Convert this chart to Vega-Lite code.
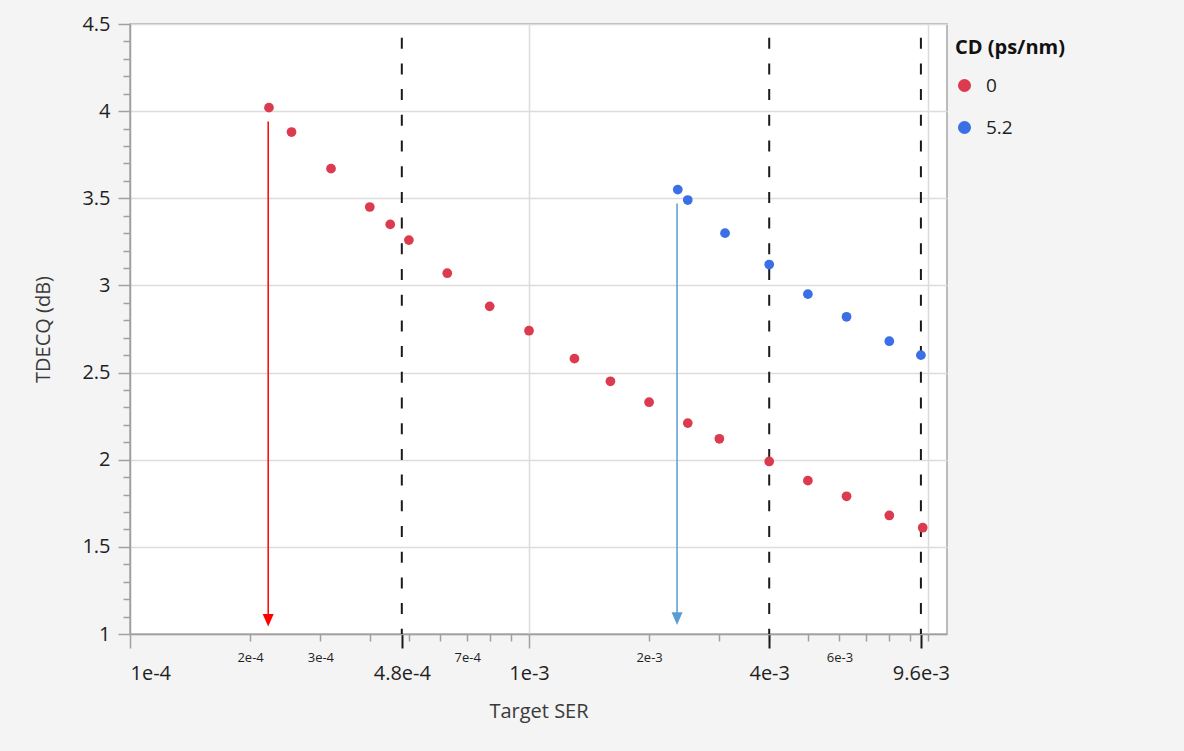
{
  "$schema": "https://vega.github.io/schema/vega-lite/v6.json",
  "width": 817,
  "height": 610,
  "autosize": {"type": "none"},
  "padding": {"left": 130, "top": 24, "right": 237, "bottom": 117},
  "background": "#f4f4f4",
  "config": {
    "font": "Open Sans",
    "view": {"fill": "#ffffff", "stroke": "#a6a6a6", "strokeWidth": 1.5}
  },
  "datasets": {
    "points": [
      {"ser": 0.000223, "tdecq": 4.02, "cd": "0"},
      {"ser": 0.000254, "tdecq": 3.88, "cd": "0"},
      {"ser": 0.000319, "tdecq": 3.67, "cd": "0"},
      {"ser": 0.000399, "tdecq": 3.45, "cd": "0"},
      {"ser": 0.000449, "tdecq": 3.35, "cd": "0"},
      {"ser": 0.0005, "tdecq": 3.26, "cd": "0"},
      {"ser": 0.000624, "tdecq": 3.07, "cd": "0"},
      {"ser": 0.000797, "tdecq": 2.88, "cd": "0"},
      {"ser": 0.001, "tdecq": 2.74, "cd": "0"},
      {"ser": 0.0013, "tdecq": 2.58, "cd": "0"},
      {"ser": 0.0016, "tdecq": 2.45, "cd": "0"},
      {"ser": 0.002, "tdecq": 2.33, "cd": "0"},
      {"ser": 0.0025, "tdecq": 2.21, "cd": "0"},
      {"ser": 0.003, "tdecq": 2.12, "cd": "0"},
      {"ser": 0.004, "tdecq": 1.99, "cd": "0"},
      {"ser": 0.005, "tdecq": 1.88, "cd": "0"},
      {"ser": 0.00625, "tdecq": 1.79, "cd": "0"},
      {"ser": 0.008, "tdecq": 1.68, "cd": "0"},
      {"ser": 0.0097, "tdecq": 1.61, "cd": "0"},
      {"ser": 0.00236, "tdecq": 3.55, "cd": "5.2"},
      {"ser": 0.0025, "tdecq": 3.49, "cd": "5.2"},
      {"ser": 0.0031, "tdecq": 3.3, "cd": "5.2"},
      {"ser": 0.004, "tdecq": 3.12, "cd": "5.2"},
      {"ser": 0.005, "tdecq": 2.95, "cd": "5.2"},
      {"ser": 0.00625, "tdecq": 2.82, "cd": "5.2"},
      {"ser": 0.008, "tdecq": 2.68, "cd": "5.2"},
      {"ser": 0.0096, "tdecq": 2.6, "cd": "5.2"}
    ],
    "limits": [
      {"ser": 0.00048},
      {"ser": 0.004},
      {"ser": 0.0096}
    ],
    "arrows": [
      {"ser": 0.000222, "tdecq": 3.94, "tdecq_end": 1.1, "head": 1.079, "name": "red"},
      {"ser": 0.00235, "tdecq": 3.47, "tdecq_end": 1.11, "head": 1.088, "name": "blue"}
    ]
  },
  "resolve": {"axis": {"x": "independent", "y": "independent"}},
  "layer": [
    {
      "data": {"name": "arrows"},
      "mark": {"type": "rule", "strokeWidth": 0},
      "encoding": {
        "x": {
          "field": "ser", "type": "quantitative",
          "scale": {"type": "log", "domain": [0.0001, 0.01116], "nice": false},
          "axis": {
            "values": [0.001, 0.01],
            "grid": true, "gridColor": "#dcdcdc", "gridWidth": 1.5,
            "ticks": false, "labels": false, "domain": false, "title": null
          }
        },
        "y": {
          "field": "tdecq", "type": "quantitative",
          "scale": {"domain": [1, 4.5], "nice": false, "zero": false},
          "axis": {
            "orient": "left",
            "values": [1.1, 1.2, 1.3, 1.4, 1.6, 1.7, 1.8, 1.9, 2.1, 2.2, 2.3, 2.4, 2.6, 2.7, 2.8, 2.9, 3.1, 3.2, 3.3, 3.4, 3.6, 3.7, 3.8, 3.9, 4.1, 4.2, 4.3, 4.4],
            "labels": false,
            "tickSize": 7,
            "tickColor": "#a0a0a0",
            "tickWidth": 1.5,
            "domain": false,
            "grid": false,
            "title": null
          }
        }
      }
    },
    {
      "data": {"name": "limits"},
      "mark": {"type": "rule", "color": "#1a1a1a", "strokeWidth": 2, "strokeDash": [11, 14.7], "strokeDashOffset": 12},
      "encoding": {
        "x": {
          "field": "ser", "type": "quantitative",
          "axis": {
            "orient": "bottom",
            "values": [0.0002, 0.0003, 0.0004, 0.0005, 0.0006, 0.0007, 0.0008, 0.0009, 0.002, 0.003, 0.004, 0.005, 0.006, 0.007, 0.008, 0.009, 0.01],
            "labelExpr": "datum.value == 0.0002 ? '2e-4' : datum.value == 0.0003 ? '3e-4' : datum.value == 0.0007 ? '7e-4' : datum.value == 0.002 ? '2e-3' : datum.value == 0.006 ? '6e-3' : ''",
            "labelOverlap": false,
            "labelFontSize": 13,
            "labelColor": "#1f1f1f",
            "labelPadding": 10,
            "tickSize": 7,
            "tickColor": "#a0a0a0",
            "tickWidth": 1.5,
            "domain": false,
            "grid": false,
            "title": null
          }
        }
      }
    },
    {
      "data": {"name": "points"},
      "mark": {"type": "circle", "size": 95, "opacity": 1},
      "encoding": {
        "x": {
          "field": "ser", "type": "quantitative",
          "axis": {
            "orient": "bottom",
            "values": [0.0001, 0.00048, 0.001, 0.004, 0.0096],
            "labelExpr": "datum.value == 0.0001 ? '1e-4' : datum.value == 0.00048 ? '4.8e-4' : datum.value == 0.001 ? '1e-3' : datum.value == 0.004 ? '4e-3' : '9.6e-3'",
            "labelOverlap": false,
            "labelFontSize": 20,
            "labelColor": "#1f1f1f",
            "labelPadding": 15,
            "tickSize": 14,
            "tickColor": {"condition": {"test": "datum.value == 0.0001 || datum.value == 0.001", "value": "#a0a0a0"}, "value": "#1a1a1a"},
            "tickWidth": {"condition": {"test": "datum.value == 0.0001 || datum.value == 0.001", "value": 1.5}, "value": 2},
            "domain": true, "domainColor": "#a0a0a0", "domainWidth": 1.5,
            "grid": false,
            "title": "Target SER",
            "titleFontSize": 20, "titleFontWeight": "normal", "titleColor": "#3a3a3a",
            "titlePadding": 18
          }
        },
        "y": {
          "field": "tdecq", "type": "quantitative",
          "axis": {
            "orient": "left",
            "values": [1, 1.5, 2, 2.5, 3, 3.5, 4, 4.5],
            "labelExpr": "'' + datum.value",
            "labelOverlap": false,
            "labelFontSize": 20,
            "labelColor": "#1f1f1f",
            "labelPadding": 8,
            "tickSize": 12,
            "tickColor": "#a0a0a0",
            "tickWidth": 1.5,
            "domain": true, "domainColor": "#a0a0a0", "domainWidth": 1.5,
            "grid": true,
            "gridColor": "#dcdcdc", "gridWidth": 1.5,
            "title": "TDECQ (dB)",
            "titleFontSize": 20, "titleFontWeight": "normal", "titleColor": "#3a3a3a",
            "titlePadding": 28
          }
        },
        "color": {
          "field": "cd", "type": "nominal",
          "scale": {"domain": ["0", "5.2"], "range": ["#dc3b4f", "#3a6fe6"]},
          "legend": {
            "title": "CD (ps/nm)",
            "orient": "none",
            "legendX": 825,
            "legendY": 14,
            "titleFontSize": 20,
            "titleFontWeight": "bold",
            "titleColor": "#111111",
            "titlePadding": 18,
            "labelFontSize": 19,
            "labelColor": "#1f1f1f",
            "labelOffset": 12,
            "symbolType": "circle",
            "symbolSize": 170,
            "symbolStrokeWidth": 0,
            "symbolOpacity": 1,
            "rowPadding": 22,
            "padding": 0
          }
        }
      }
    },
    {
      "data": {"name": "arrows"},
      "transform": [{"filter": "datum.name == 'red'"}],
      "mark": {"type": "rule", "color": "#ff0000", "strokeWidth": 1.5},
      "encoding": {
        "x": {"field": "ser", "type": "quantitative", "axis": null},
        "y": {"field": "tdecq", "type": "quantitative", "axis": null},
        "y2": {"field": "tdecq_end"}
      }
    },
    {
      "data": {"name": "arrows"},
      "transform": [{"filter": "datum.name == 'blue'"}],
      "mark": {"type": "rule", "color": "#5b9bd5", "strokeWidth": 1.5},
      "encoding": {
        "x": {"field": "ser", "type": "quantitative", "axis": null},
        "y": {"field": "tdecq", "type": "quantitative", "axis": null},
        "y2": {"field": "tdecq_end"}
      }
    },
    {
      "data": {"name": "arrows"},
      "transform": [{"filter": "datum.name == 'red'"}],
      "mark": {"type": "point", "shape": "M -1 -1.15 L 1 -1.15 L 0 1.15 Z", "filled": true, "color": "#ff0000", "size": 121, "opacity": 1},
      "encoding": {
        "x": {"field": "ser", "type": "quantitative", "axis": null},
        "y": {"field": "head", "type": "quantitative", "axis": null}
      }
    },
    {
      "data": {"name": "arrows"},
      "transform": [{"filter": "datum.name == 'blue'"}],
      "mark": {"type": "point", "shape": "M -1 -1.15 L 1 -1.15 L 0 1.15 Z", "filled": true, "color": "#5b9bd5", "size": 121, "opacity": 1},
      "encoding": {
        "x": {"field": "ser", "type": "quantitative", "axis": null},
        "y": {"field": "head", "type": "quantitative", "axis": null}
      }
    }
  ]
}
